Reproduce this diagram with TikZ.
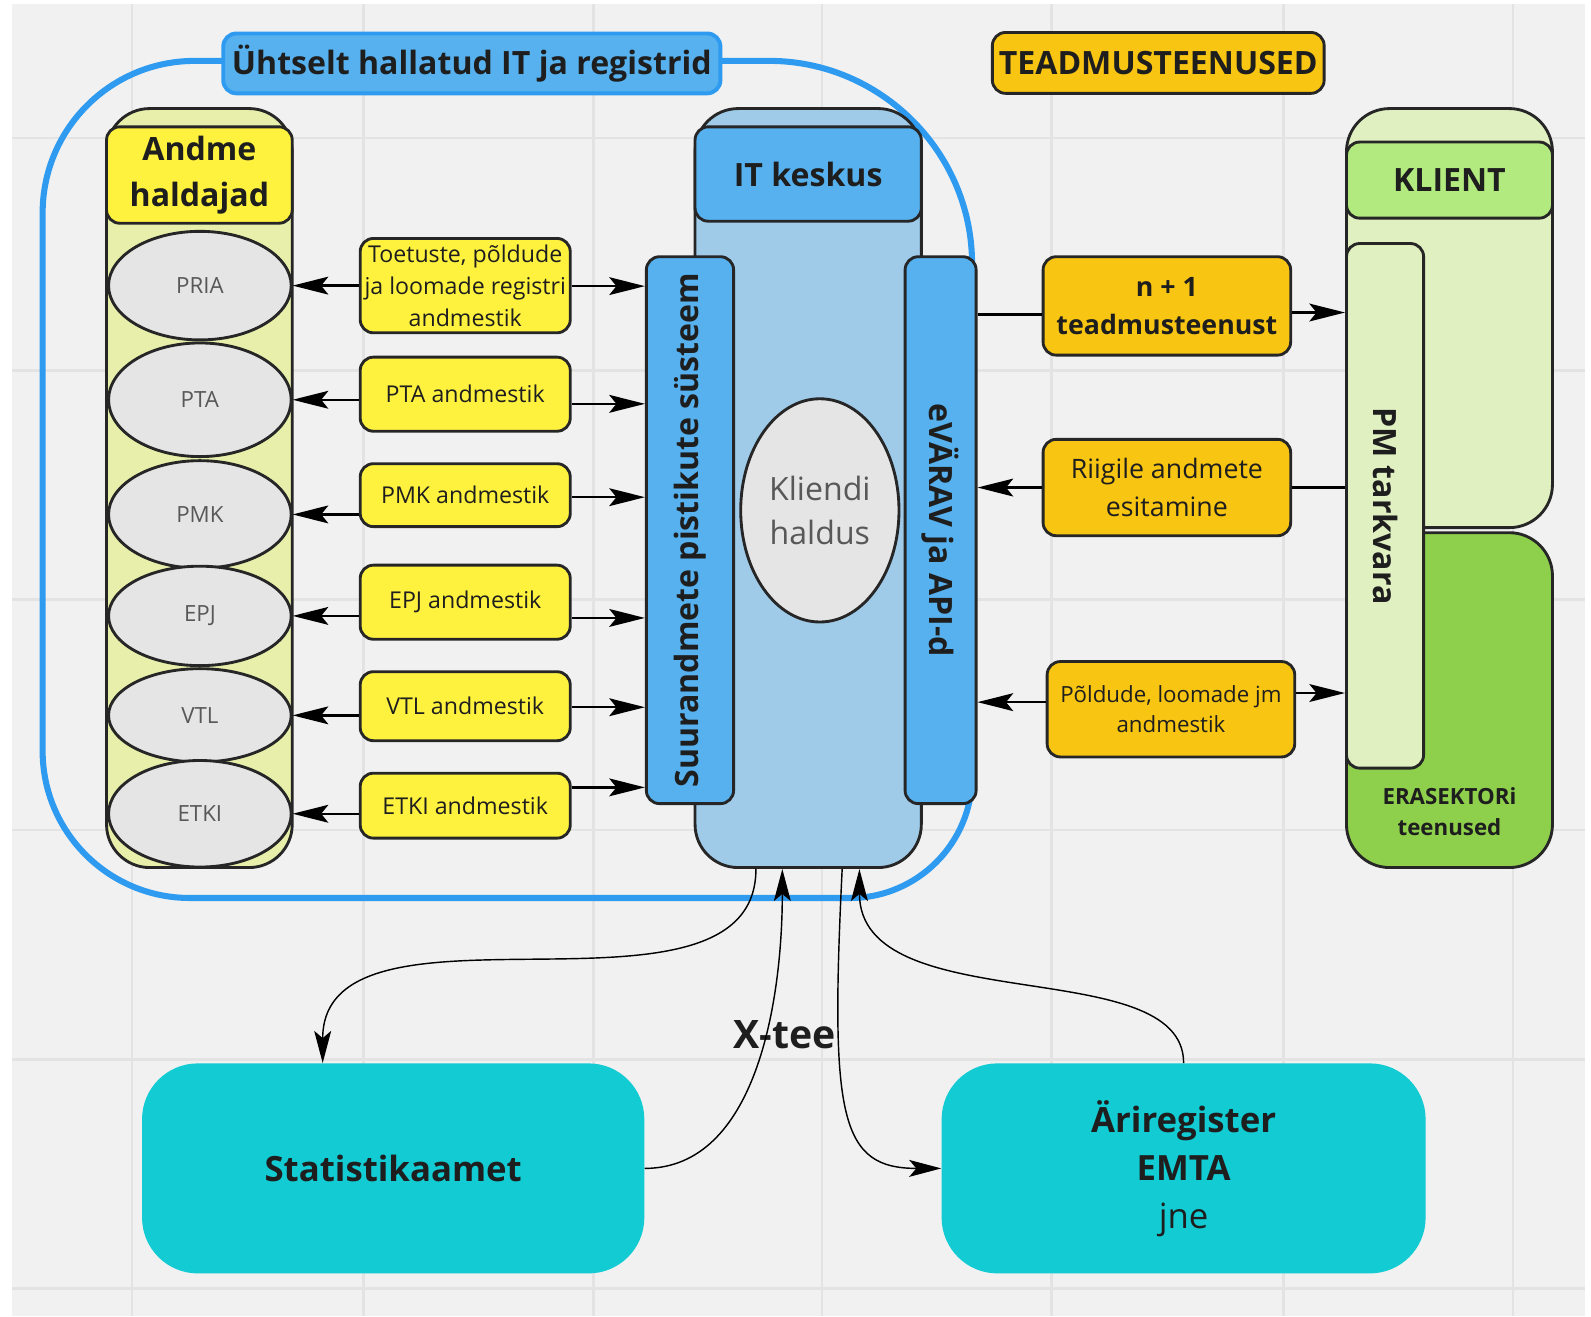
\documentclass[tikz,border=0pt]{standalone}
\usepackage{fontspec}
\setmainfont{Open Sans}
\usetikzlibrary{arrows.meta,shapes.geometric}

\definecolor{canvas}{HTML}{F1F1F1}
\definecolor{gridgray}{HTML}{E3E3E3}
\definecolor{edge}{HTML}{262626}
\definecolor{ink}{HTML}{1E1E1E}
\definecolor{softink}{HTML}{585858}
\definecolor{frameblue}{HTML}{2F9BF0}
\definecolor{itblue}{HTML}{56B1EE}
\definecolor{itpale}{HTML}{9FCBE9}
\definecolor{dataylw}{HTML}{FFF23F}
\definecolor{ownerbg}{HTML}{E8EFAB}
\definecolor{ellgray}{HTML}{E5E5E5}
\definecolor{amber}{HTML}{F8C512}
\definecolor{clientbg}{HTML}{E0F0C1}
\definecolor{clienthd}{HTML}{B2EA7F}
\definecolor{privgreen}{HTML}{8ED04C}
\definecolor{xcyan}{HTML}{12CBD3}

\newcommand{\fntHead}{\fontsize{18}{25.5}\selectfont\bfseries}
\newcommand{\fntData}{\fontsize{13}{18}\selectfont}
\newcommand{\fntTeenus}{\fontsize{15}{21.5}\selectfont}
\newcommand{\fntSmall}{\fontsize{12.5}{17}\selectfont}
\newcommand{\fntBig}{\fontsize{19.5}{27}\selectfont}

\tikzset{
  wh/.style 2 args={minimum width=#1*0.02cm, minimum height=#2*0.02cm},
  box/.style={draw=edge, line width=1.6pt, rounded corners=0.26cm, align=center, text=ink, inner sep=1pt},
  column/.style={draw=edge, line width=1.6pt, rounded corners=0.85cm},
  owner/.style={ellipse, draw=edge, line width=1.6pt, fill=ellgray, text=softink, align=center, inner sep=0pt, font=\fontsize{12.5}{15}\selectfont},
  data/.style={box, fill=dataylw, wh={207}{#1}, font=\fntData},
  teenus/.style={box, fill=amber, wh={244}{#1}, font=\fntTeenus},
  arr/.style={line width=1.3pt, -{Stealth[length=20pt,width=10pt,inset=4pt]}},
  link/.style={line width=1.3pt},
  flow/.style={line width=0.8pt, -{Stealth[length=18pt,width=9.5pt,inset=4pt]}},
  office/.style={fill=xcyan, rounded corners=1.1cm, align=center, text=ink, font=\fntBig}
}

\begin{document}
\begin{tikzpicture}[x=0.02cm, y=-0.02cm]
  \useasboundingbox (0,0) rectangle (1568,1297);
  \fill[canvas] (12,4) rectangle (1562,1297);
  \foreach \gx in {130,358,585,810,1036,1265,1491}
    \draw[gridgray, line width=1.5pt] (\gx,4) -- (\gx,1297);
  \foreach \gy in {136,365,591,818,1044,1270}
    \draw[gridgray, line width=1.5pt] (12,\gy) -- (1562,\gy);

  % blue frame round the managed part
  \draw[frameblue, line width=3.4pt] (42,210) .. controls (42,127) and (109,60) .. (192,60)
    -- (758,60) .. controls (868,60) and (958,150) .. (958,260)
    -- (958,765) .. controls (958,831) and (904,885) .. (838,885)
    -- (187,885) .. controls (107,885) and (42,820) .. (42,740) -- cycle;
  \node[box, fill=itblue, draw=frameblue, line width=2.2pt, wh={490}{59}, font=\fntHead] (title) at (465,62.5) {Ühtselt hallatud IT ja registrid};
  \node[box, fill=amber, wh={327}{60}, font=\fntHead] (teadmus) at (1141.5,62) {TEADMUSTEENUSED};

  % data owners
  \node[column, fill=ownerbg, wh={183}{748}] (owners) at (196.5,481) {};
  \node[box, fill=dataylw, wh={183}{95}, font=\fntHead] (ownershd) at (196.5,172.5) {Andme\\haldajad};
  \node[owner, wh={180}{107}] (pria) at (197,281.5) {PRIA};
  \node[owner, wh={180}{112}] (pta) at (197,394) {PTA};
  \node[owner, wh={180}{106}] (pmk) at (197,507) {PMK};
  \node[owner, wh={180}{98}] (epj) at (197,607) {EPJ};
  \node[owner, wh={180}{92}] (vtl) at (197,705) {VTL};
  \node[owner, wh={180}{105}] (etki) at (197,802) {ETKI};

  % IT centre
  \node[column, fill=itpale, wh={223}{748}] (itc) at (796.5,481) {};
  \node[box, fill=itblue, wh={223}{93}, font=\fntHead] (ithd) at (796.5,171.5) {IT keskus};
  \node[owner, wh={156}{220}, font=\fontsize{18}{25}\selectfont] (kliendi) at (808,503) {Kliendi\\haldus};
  \node[box, fill=itblue, wh={86}{539}, font=\fntHead] (suur) at (680,522.5) {\rotatebox{90}{Suurandmete pistikute süsteem}};
  \node[box, fill=itblue, wh={70}{539}, font=\fntHead] (evarav) at (927,522.5) {\rotatebox{-90}{eVÄRAV ja API-d}};

  % data sets
  \node[data=93] (dpria) at (458.5,281.5) {Toetuste, põldude\\ja loomade registri\\andmestik};
  \node[data=73] (dpta) at (458.5,388.5) {PTA andmestik};
  \node[data=62] (dpmk) at (458.5,488) {PMK andmestik};
  \node[data=73] (depj) at (458.5,593.5) {EPJ andmestik};
  \node[data=68] (dvtl) at (458.5,696) {VTL andmestik};
  \node[data=64] (detki) at (458.5,794) {ETKI andmestik};
  \foreach \d/\o/\ry in {dpria/pria/282, dpta/pta/398, dpmk/pmk/490, depj/epj/609, dvtl/vtl/697, detki/etki/776} {
    \draw[arr] (\d.west |- \o) -- (\o.east);
    \draw[arr] (\d.east |- 0,\ry) -- (suur.west |- 0,\ry);
  }

  % knowledge services
  \node[teenus=97, font=\fntTeenus\bfseries] (nplus) at (1150,301.5) {n + 1\\teadmusteenust};
  \node[teenus=95] (riigile) at (1150,480.5) {Riigile andmete\\esitamine};
  \node[teenus=94, font=\fntSmall] (pold) at (1154,699) {Põldude, loomade jm\\andmestik};

  % client
  \node[column, fill=clientbg, wh={203}{413}] (client) at (1428.5,313.5) {};
  \node[box, fill=clienthd, wh={203}{75}, font=\fntHead] (clienthd) at (1428.5,177.5) {KLIENT};
  \node[column, fill=privgreen, wh={203}{330}] (erasektor) at (1428.5,690) {};
  \node[text=ink, font=\fntSmall\bfseries, align=center] (eratxt) at (1428.5,800) {ERASEKTORi\\teenused};
  \node[box, fill=clientbg, wh={76}{517}, font=\fntHead] (pm) at (1365,498.5) {\rotatebox{-90}{PM tarkvara}};

  \draw[link] (evarav.east |- 0,310) -- (nplus.west |- 0,310);
  \draw[arr] (nplus.east |- 0,308) -- (pm.west |- 0,308);
  \draw[link] (pm.west |- riigile) -- (riigile.east);
  \draw[arr] (riigile.west) -- (evarav.east |- riigile);
  \draw[arr] (pold.west |- 0,692) -- (evarav.east |- 0,692);
  \draw[arr] (pold.east |- 0,683) -- (pm.west |- 0,683);

  % X-tee
  \node[office, wh={495}{207}, font=\fntBig\bfseries] (stat) at (387.5,1151.5) {Statistikaamet};
  \node[office, wh={477}{207}] (ari) at (1166.5,1151.5) {\textbf{Äriregister}\\\textbf{EMTA}\\jne};
  \node[font=\fontsize{22}{26}\selectfont\bfseries, text=ink] (xtee) at (773,1020) {X-tee};
  \draw[flow] ([xshift=-1.03cm]itc.south) .. controls +(0,170) and +(0,-180) .. ([xshift=-1.39cm]stat.north);
  \draw[flow] (stat.east) .. controls +(110,0) and +(0,130) .. ([xshift=-0.51cm]itc.south);
  \draw[flow] ([xshift=0.67cm]itc.south) .. controls +(-12,245) and +(-100,0) .. (ari.west);
  \draw[flow] (ari.north) .. controls +(0,-110) and +(0,150) .. ([xshift=1.01cm]itc.south);
\end{tikzpicture}
\end{document}
